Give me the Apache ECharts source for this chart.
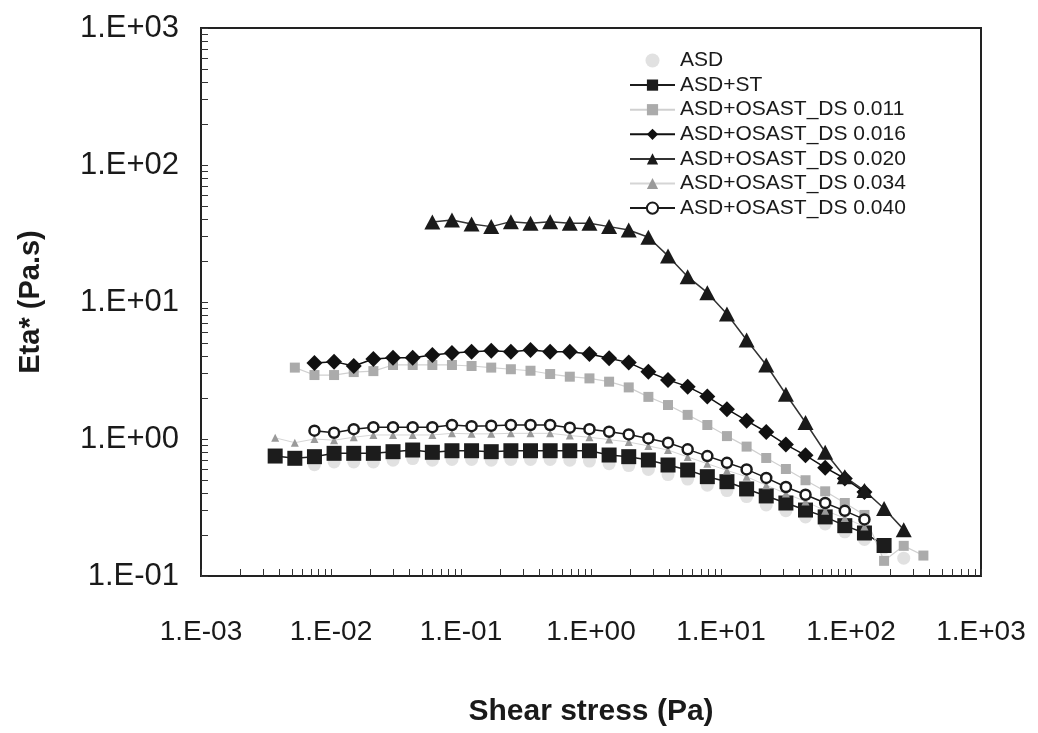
<!DOCTYPE html>
<html>
<head>
<meta charset="utf-8">
<script src="https://cdn.jsdelivr.net/npm/echarts@6/dist/echarts.min.js"></script>
<style>
html,body{margin:0;padding:0;background:#fff;}
#c{width:1038px;height:733px;}
</style>
</head>
<body>
<div id="c"></div>
<script>
// Shear stress (Pa) grid shared by all samples
const stress = [0.00372,0.00527,0.00746,0.01056,0.01496,0.02118,0.0300,0.0425,0.0602,0.0852,0.1206,0.1708,0.2419,0.3425,0.485,0.687,0.973,1.378,1.951,2.763,3.913,5.54,7.85,11.11,15.74,22.28,31.56,44.69,63.3,89.6,126.9,179.7,254.5,360.5];

// Eta* (Pa.s) per sample (null = no point)
const asd      = [null,null,0.65,0.68,0.68,0.68,0.70,0.72,0.70,0.71,0.71,0.70,0.71,0.71,0.71,0.70,0.69,0.66,0.64,0.60,0.55,0.51,0.46,0.42,0.38,0.33,0.30,0.27,0.24,0.21,0.185,0.16,0.135,null];
const asdSt    = [0.751,0.723,0.743,0.786,0.786,0.786,0.808,0.831,0.800,0.821,0.821,0.808,0.821,0.821,0.821,0.821,0.821,0.764,0.743,0.703,0.646,0.594,0.531,0.488,0.432,0.384,0.341,0.303,0.270,0.233,0.206,0.167,null,null];
const ds011    = [null,3.32,2.93,2.93,3.08,3.13,3.47,3.47,3.47,3.47,3.41,3.32,3.23,3.15,2.98,2.85,2.77,2.62,2.38,2.03,1.77,1.50,1.265,1.05,0.88,0.727,0.604,0.50,0.415,0.341,0.279,0.129,0.166,0.141];
const ds016    = [null,null,3.59,3.67,3.41,3.84,3.92,3.92,4.10,4.24,4.34,4.41,4.34,4.46,4.34,4.34,4.17,3.88,3.61,3.10,2.70,2.41,2.04,1.65,1.36,1.125,0.91,0.76,0.618,0.515,0.41,null,null,null];
const ds020    = [null,null,null,null,null,null,null,null,38.4,39.7,37.1,35.5,38.6,37.5,38.6,37.5,37.5,35.5,33.5,29.7,21.7,15.3,11.7,8.17,5.28,3.47,2.12,1.32,0.80,0.53,0.42,0.311,0.218,null];
const ds034    = [1.02,0.94,1.0,0.98,1.03,1.07,1.07,1.07,1.07,1.10,1.09,1.09,1.10,1.10,1.10,1.06,1.03,0.99,0.95,0.89,0.83,0.74,0.66,0.59,0.53,0.46,0.40,0.35,0.30,0.265,0.23,null,null,null];
const ds040    = [null,null,1.15,1.11,1.18,1.22,1.22,1.22,1.22,1.265,1.24,1.25,1.265,1.265,1.265,1.21,1.18,1.13,1.08,1.01,0.94,0.84,0.75,0.67,0.60,0.52,0.446,0.392,0.341,0.299,0.259,null,null,null];

const names = ['ASD','ASD+ST','ASD+OSAST_DS 0.011','ASD+OSAST_DS 0.016','ASD+OSAST_DS 0.020','ASD+OSAST_DS 0.034','ASD+OSAST_DS 0.040'];
const xDecades = [0.001,0.01,0.1,1,10,100,1000];
const yDecades = [0.1,1,10,100,1000];

function pairs(arr){
  const out=[];
  arr.forEach((v,i)=>{ if(v!==null) out.push([stress[i],v]); });
  return out;
}
function minorTicks(dec){
  const t=[];
  for(let i=0;i<dec.length-1;i++){
    for(let m=1;m<10;m++){ t.push(parseFloat((m*dec[i]).toPrecision(6))); }
  }
  t.push(dec[dec.length-1]);
  return t;
}
function fmt(v){
  const e=Math.round(Math.log10(v));
  const a=Math.abs(e);
  return '1.E'+(e<0?'-':'+')+(a<10?'0':'')+a;
}

const FONT='"Liberation Sans", Arial, sans-serif';
const chart = echarts.init(document.getElementById('c'), null, {renderer:'canvas'});
const option = {
  backgroundColor:'#fff',
  animation:false,
  grid:{left:201,top:28,width:780,height:548,show:true,borderColor:'#222',borderWidth:2,backgroundColor:'transparent'},
  legend:{
    orient:'vertical', left:624, top:45,
    itemWidth:45, itemHeight:14, itemGap:3.6,
    textStyle:{fontFamily:FONT,fontSize:21,color:'#1a1a1a',lineHeight:21},
    data:names
  },
  xAxis:{
    type:'log', min:0.001, max:1000, logBase:10,
    name:'Shear stress (Pa)', nameLocation:'middle', nameGap:121,
    nameTextStyle:{fontFamily:FONT,fontSize:30,fontWeight:'bold',color:'#1a1a1a'},
    axisLine:{show:true,lineStyle:{color:'#222',width:2}},
    axisTick:{show:true,inside:true,length:7,customValues:minorTicks(xDecades),lineStyle:{color:'#333',width:1}},
    axisLabel:{customValues:xDecades,formatter:fmt,margin:42,fontFamily:FONT,fontSize:28,color:'#1a1a1a'},
    splitLine:{show:false}, minorTick:{show:false}
  },
  yAxis:{
    type:'log', min:0.1, max:1000, logBase:10,
    name:'Eta* (Pa.s)', nameLocation:'middle', nameGap:156,
    nameTextStyle:{fontFamily:FONT,fontSize:29,fontWeight:'bold',color:'#1a1a1a'},
    axisLine:{show:true,lineStyle:{color:'#222',width:2}},
    axisTick:{show:true,inside:true,length:7,customValues:minorTicks(yDecades),lineStyle:{color:'#333',width:1}},
    axisLabel:{customValues:yDecades,formatter:fmt,margin:22,fontFamily:FONT,fontSize:31,color:'#1a1a1a'},
    splitLine:{show:false}, minorTick:{show:false}
  },
  series:[
    {name:names[0],type:'scatter',data:pairs(asd),symbol:'circle',symbolSize:13,
     itemStyle:{color:'#d9d9d9'}},
    {name:names[1],type:'line',data:pairs(asdSt),symbol:'rect',symbolSize:15,
     itemStyle:{color:'#1c1c1c'},lineStyle:{color:'#1c1c1c',width:1.5}},
    {name:names[2],type:'line',data:pairs(ds011),symbol:'rect',symbolSize:10,
     itemStyle:{color:'#ababab'},lineStyle:{color:'#d0d0d0',width:1.2}},
    {name:names[3],type:'line',data:pairs(ds016),symbol:'diamond',symbolSize:16,
     itemStyle:{color:'#111'},lineStyle:{color:'#111',width:1.5}},
    {name:names[4],type:'line',data:pairs(ds020),symbol:'triangle',symbolSize:[16,15],
     itemStyle:{color:'#1a1a1a'},lineStyle:{color:'#333',width:1.5}},
    {name:names[5],type:'line',data:pairs(ds034),symbol:'triangle',symbolSize:8,
     itemStyle:{color:'#9a9a9a'},lineStyle:{color:'#d5d5d5',width:1}},
    {name:names[6],type:'line',data:pairs(ds040),symbol:'circle',symbolSize:10,
     itemStyle:{color:'#fff',borderColor:'#1a1a1a',borderWidth:2.5},lineStyle:{color:'#1a1a1a',width:1.5}}
  ]
};
chart.setOption(option);
</script>
</body>
</html>
